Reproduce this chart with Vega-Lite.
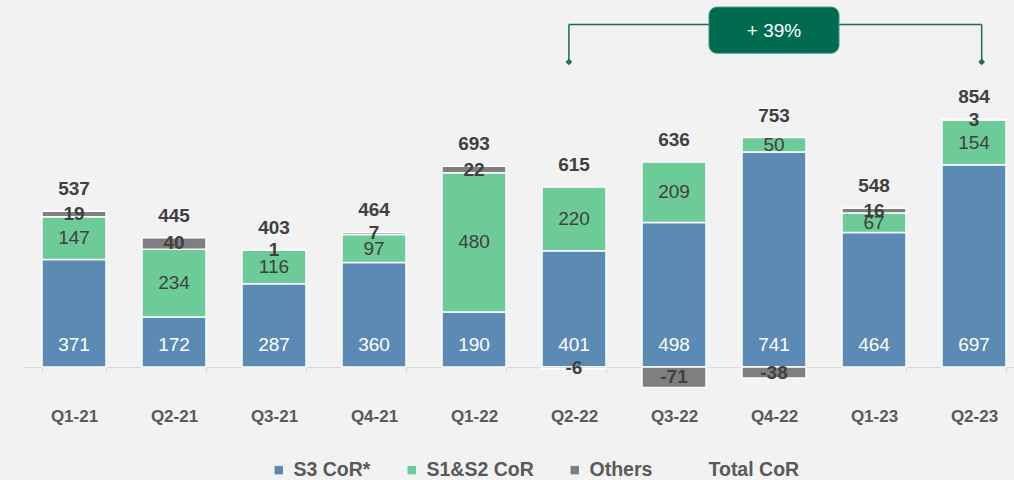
{
  "$schema": "https://vega.github.io/schema/vega-lite/v6.json",
  "width": 990,
  "height": 367,
  "autosize": "none",
  "padding": {"left": 24, "top": 0, "right": 0, "bottom": 113},
  "background": "#f2f2f2",
  "config": {
    "view": {"stroke": null},
    "font": "Liberation Sans",
    "legend": {
      "orient": "none",
      "legendX": 245,
      "legendY": 460,
      "direction": "horizontal",
      "title": null,
      "symbolType": "square",
      "symbolSize": 72,
      "symbolStrokeWidth": 0,
      "labelFont": "Liberation Sans",
      "labelFontWeight": "bold",
      "labelFontSize": 19.5,
      "labelColor": "#595959",
      "columnPadding": 31,
      "labelOffset": 5,
      "padding": 0
    }
  },
  "data": {
    "values": [
      {"quarter": "Q1-21", "series": "S3 CoR*", "value": 371},
      {"quarter": "Q1-21", "series": "S1&S2 CoR", "value": 147},
      {"quarter": "Q1-21", "series": "Others", "value": 19},
      {"quarter": "Q1-21", "series": "Total CoR", "value": 537},
      {"quarter": "Q2-21", "series": "S3 CoR*", "value": 172},
      {"quarter": "Q2-21", "series": "S1&S2 CoR", "value": 234},
      {"quarter": "Q2-21", "series": "Others", "value": 40},
      {"quarter": "Q2-21", "series": "Total CoR", "value": 445},
      {"quarter": "Q3-21", "series": "S3 CoR*", "value": 287},
      {"quarter": "Q3-21", "series": "S1&S2 CoR", "value": 116},
      {"quarter": "Q3-21", "series": "Others", "value": 1},
      {"quarter": "Q3-21", "series": "Total CoR", "value": 403},
      {"quarter": "Q4-21", "series": "S3 CoR*", "value": 360},
      {"quarter": "Q4-21", "series": "S1&S2 CoR", "value": 97},
      {"quarter": "Q4-21", "series": "Others", "value": 7},
      {"quarter": "Q4-21", "series": "Total CoR", "value": 464},
      {"quarter": "Q1-22", "series": "S3 CoR*", "value": 190},
      {"quarter": "Q1-22", "series": "S1&S2 CoR", "value": 480},
      {"quarter": "Q1-22", "series": "Others", "value": 22},
      {"quarter": "Q1-22", "series": "Total CoR", "value": 693},
      {"quarter": "Q2-22", "series": "S3 CoR*", "value": 401},
      {"quarter": "Q2-22", "series": "S1&S2 CoR", "value": 220},
      {"quarter": "Q2-22", "series": "Others", "value": -6},
      {"quarter": "Q2-22", "series": "Total CoR", "value": 615},
      {"quarter": "Q3-22", "series": "S3 CoR*", "value": 498},
      {"quarter": "Q3-22", "series": "S1&S2 CoR", "value": 209},
      {"quarter": "Q3-22", "series": "Others", "value": -71},
      {"quarter": "Q3-22", "series": "Total CoR", "value": 636},
      {"quarter": "Q4-22", "series": "S3 CoR*", "value": 741},
      {"quarter": "Q4-22", "series": "S1&S2 CoR", "value": 50},
      {"quarter": "Q4-22", "series": "Others", "value": -38},
      {"quarter": "Q4-22", "series": "Total CoR", "value": 753},
      {"quarter": "Q1-23", "series": "S3 CoR*", "value": 464},
      {"quarter": "Q1-23", "series": "S1&S2 CoR", "value": 67},
      {"quarter": "Q1-23", "series": "Others", "value": 16},
      {"quarter": "Q1-23", "series": "Total CoR", "value": 548},
      {"quarter": "Q2-23", "series": "S3 CoR*", "value": 697},
      {"quarter": "Q2-23", "series": "S1&S2 CoR", "value": 154},
      {"quarter": "Q2-23", "series": "Others", "value": 3},
      {"quarter": "Q2-23", "series": "Total CoR", "value": 854}
    ]
  },
  "transform": [
    {"calculate": "indexof(['S3 CoR*','S1&S2 CoR','Others','Total CoR'], datum.series)", "as": "ord"}
  ],
  "encoding": {
    "x": {
      "field": "quarter",
      "type": "nominal",
      "sort": null,
      "scale": {"range": [0, 1000], "paddingInner": 0.36, "paddingOuter": 0.18},
      "axis": {
        "title": null,
        "labelAngle": 0,
        "labelFont": "Liberation Sans",
        "labelFontWeight": "bold",
        "labelFontSize": 17,
        "labelColor": "#595959",
        "labelPadding": 35,
        "domainColor": "#d9d9d9",
        "tickColor": "#d9d9d9",
        "tickSize": 6,
        "tickBand": "extent"
      }
    }
  },
  "layer": [
    {
      "transform": [{"filter": "datum.series != 'Total CoR'"}],
      "mark": {"type": "bar", "stroke": "white", "strokeWidth": 1.5},
      "encoding": {
        "y": {
          "field": "value",
          "type": "quantitative",
          "stack": "zero",
          "scale": {"domain": [0, 1265.5], "nice": false, "zero": false},
          "axis": null
        },
        "color": {
          "field": "series",
          "type": "nominal",
          "scale": {
            "domain": ["S3 CoR*", "S1&S2 CoR", "Others", "Total CoR"],
            "range": ["#5b8ab5", "#6dcb98", "#7f7f7f", "rgba(0,0,0,0)"]
          }
        },
        "order": {"field": "ord", "type": "quantitative"}
      }
    },
    {
      "transform": [
        {"filter": "datum.series != 'Total CoR'"},
        {"stack": "value", "groupby": ["quarter"], "sort": [{"field": "ord", "order": "ascending"}], "as": ["v0", "v1"]},
        {"calculate": "(datum.v0 + datum.v1) / 2", "as": "mid"}
      ],
      "layer": [
        {
          "transform": [{"filter": "datum.series == 'S3 CoR*'"}],
          "mark": {"type": "text", "color": "white", "fontSize": 19, "baseline": "middle", "dy": -22},
          "encoding": {
            "y": {"field": "v0", "type": "quantitative"},
            "text": {"field": "value", "type": "nominal"}
          }
        },
        {
          "transform": [{"filter": "datum.series == 'S1&S2 CoR'"}],
          "mark": {"type": "text", "color": "#404040", "fontSize": 19, "baseline": "middle"},
          "encoding": {
            "y": {"field": "mid", "type": "quantitative"},
            "text": {"field": "value", "type": "nominal"}
          }
        },
        {
          "transform": [{"filter": "datum.series == 'Others'"}],
          "mark": {"type": "text", "color": "#404040", "fontSize": 19, "fontWeight": "bold", "baseline": "middle"},
          "encoding": {
            "y": {"field": "mid", "type": "quantitative"},
            "text": {"field": "value", "type": "nominal"}
          }
        }
      ]
    },
    {
      "transform": [
        {"calculate": "datum.series != 'Total CoR' && datum.value > 0 ? datum.value : 0", "as": "pos"},
        {"joinaggregate": [{"op": "sum", "field": "pos", "as": "top"}], "groupby": ["quarter"]},
        {"filter": "datum.series == 'Total CoR'"}
      ],
      "mark": {"type": "text", "color": "#404040", "fontSize": 19, "fontWeight": "bold", "baseline": "middle", "dy": -22},
      "encoding": {
        "y": {"field": "top", "type": "quantitative"},
        "text": {"field": "value", "type": "nominal"}
      }
    },
    {
      "data": {"values": [{"q": "Q2-22"}]},
      "mark": {"type": "rule", "color": "#1a6e55", "strokeWidth": 1.5},
      "encoding": {
        "x": {"datum": "Q2-22", "bandPosition": 0.42},
        "x2": {"datum": "Q2-23", "bandPosition": 0.62},
        "y": {"datum": 1181}
      }
    },
    {
      "data": {"values": [{"q": "Q2-22"}]},
      "layer": [
        {
          "mark": {"type": "rule", "color": "#1a6e55", "strokeWidth": 1.5},
          "encoding": {
            "x": {"datum": "Q2-22", "bandPosition": 0.42},
            "y": {"datum": 1181},
            "y2": {"datum": 1052}
          }
        },
        {
          "mark": {"type": "point", "shape": "diamond", "filled": true, "opacity": 1, "color": "#1a6e55", "size": 45},
          "encoding": {
            "x": {"datum": "Q2-22", "bandPosition": 0.42},
            "y": {"datum": 1052}
          }
        }
      ]
    },
    {
      "data": {"values": [{"q": "Q2-23"}]},
      "layer": [
        {
          "mark": {"type": "rule", "color": "#1a6e55", "strokeWidth": 1.5},
          "encoding": {
            "x": {"datum": "Q2-23", "bandPosition": 0.62},
            "y": {"datum": 1181},
            "y2": {"datum": 1052}
          }
        },
        {
          "mark": {"type": "point", "shape": "diamond", "filled": true, "opacity": 1, "color": "#1a6e55", "size": 45},
          "encoding": {
            "x": {"datum": "Q2-23", "bandPosition": 0.62},
            "y": {"datum": 1052}
          }
        }
      ]
    },
    {
      "data": {"values": [{"q": "Q4-22"}]},
      "layer": [
        {
          "mark": {"type": "bar", "width": 130, "cornerRadius": 8, "fill": "#006b4e", "stroke": "#3a9a82", "strokeWidth": 1},
          "encoding": {
            "x": {"datum": "Q4-22"},
            "y": {"datum": 1241},
            "y2": {"datum": 1082}
          }
        },
        {
          "mark": {"type": "text", "text": "+ 39%", "color": "white", "fontSize": 19, "baseline": "middle"},
          "encoding": {
            "x": {"datum": "Q4-22"},
            "y": {"datum": 1160}
          }
        }
      ]
    }
  ]
}
